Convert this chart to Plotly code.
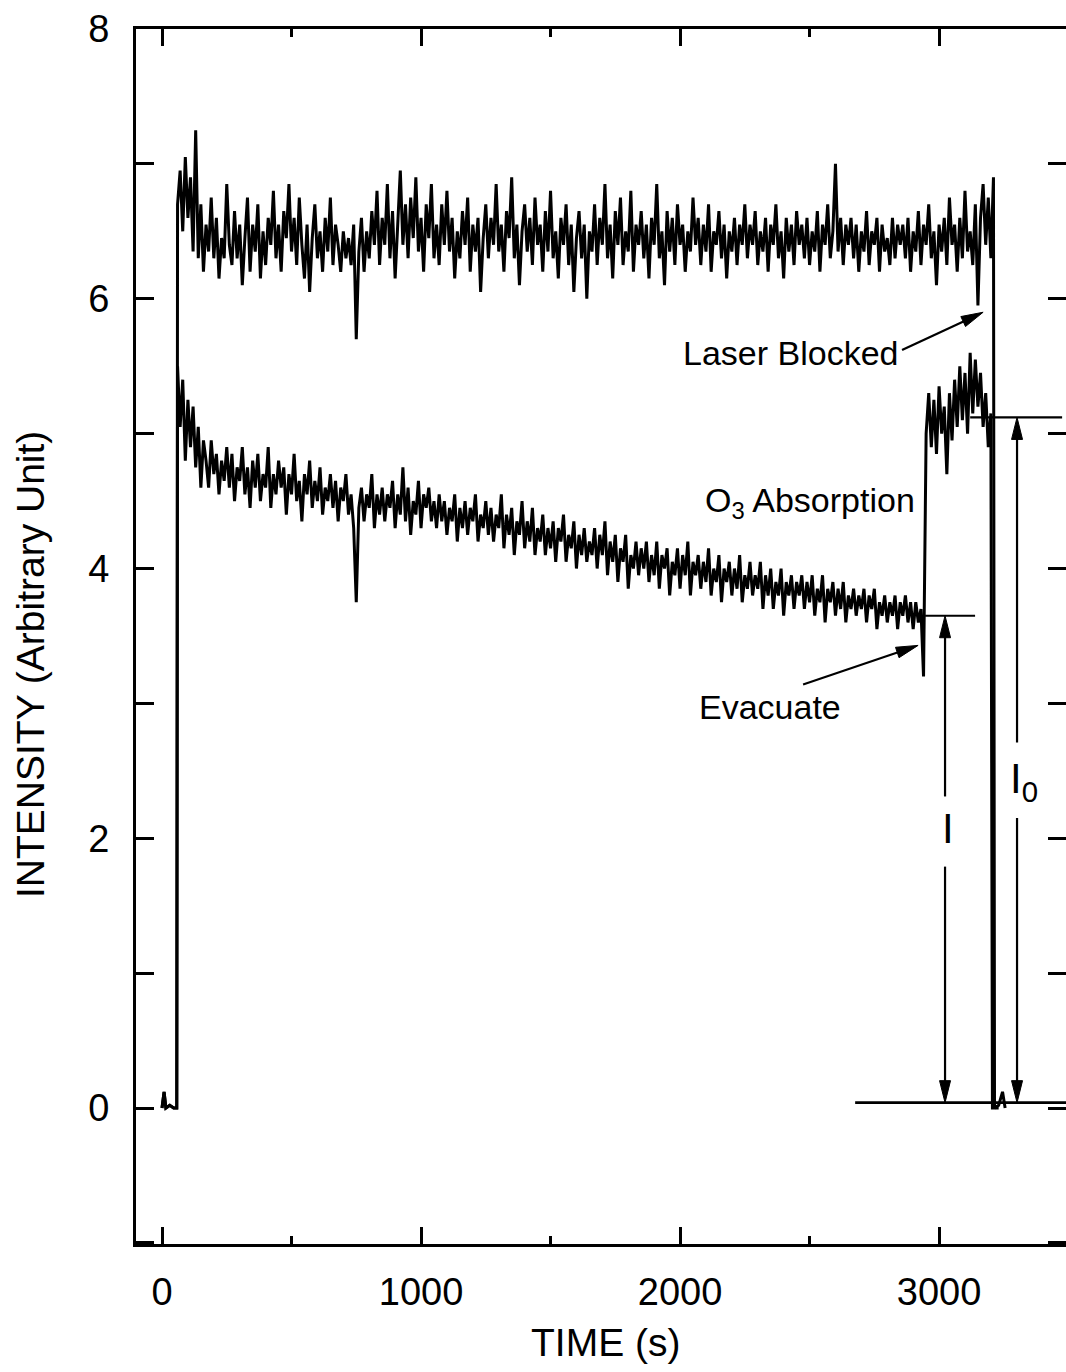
import math
import plotly.graph_objects as go

# ---------------- data ----------------
# baseline before the laser is switched on (shared by both records)
PRE_TIME = [0, 8, 15, 30, 45, 57]
PRE_LEVEL = [0.0, 0.12, 0.0, 0.02, 0.0, 0.0]

# sampled records: first sample at 60 s, one sample every 10 s
SAMPLE_START = 60
SAMPLE_STEP = 10

# upper record (reference beam), 60 s ... 3210 s
UPPER = [
    6.70, 6.95, 6.50, 7.05, 6.60, 6.90, 6.35, 7.25, 6.30, 6.70, 6.20, 6.55, 6.35, 6.75, 6.30, 6.60, 6.15, 6.45, 6.30, 6.85,
    6.40, 6.25, 6.65, 6.30, 6.55, 6.10, 6.45, 6.75, 6.20, 6.55, 6.35, 6.70, 6.15, 6.50, 6.25, 6.60, 6.40, 6.80, 6.30, 6.55,
    6.20, 6.65, 6.45, 6.85, 6.35, 6.60, 6.25, 6.75, 6.40, 6.15, 6.55, 6.05, 6.45, 6.70, 6.30, 6.50, 6.20, 6.60, 6.35, 6.75,
    6.25, 6.55, 6.40, 6.20, 6.50, 6.30, 6.45, 6.25, 6.55, 5.70, 6.35, 6.60, 6.20, 6.50, 6.30, 6.65, 6.40, 6.80, 6.25, 6.60,
    6.40, 6.85, 6.30, 6.65, 6.15, 6.55, 6.95, 6.40, 6.70, 6.30, 6.75, 6.45, 6.90, 6.35, 6.60, 6.20, 6.70, 6.45, 6.85, 6.30,
    6.55, 6.25, 6.70, 6.40, 6.80, 6.35, 6.60, 6.15, 6.50, 6.30, 6.65, 6.40, 6.75, 6.20, 6.55, 6.35, 6.60, 6.05, 6.45, 6.70,
    6.30, 6.60, 6.40, 6.85, 6.35, 6.55, 6.20, 6.65, 6.45, 6.90, 6.30, 6.55, 6.10, 6.50, 6.70, 6.35, 6.60, 6.25, 6.75, 6.40,
    6.55, 6.20, 6.65, 6.35, 6.80, 6.30, 6.50, 6.15, 6.60, 6.40, 6.70, 6.25, 6.55, 6.05, 6.45, 6.65, 6.30, 6.55, 6.00, 6.50,
    6.35, 6.70, 6.25, 6.60, 6.40, 6.85, 6.30, 6.55, 6.15, 6.65, 6.40, 6.75, 6.25, 6.50, 6.35, 6.80, 6.20, 6.55, 6.40, 6.65,
    6.30, 6.55, 6.15, 6.60, 6.40, 6.85, 6.30, 6.50, 6.10, 6.65, 6.35, 6.60, 6.25, 6.70, 6.40, 6.55, 6.20, 6.50, 6.35, 6.75,
    6.40, 6.60, 6.25, 6.55, 6.35, 6.70, 6.20, 6.50, 6.40, 6.65, 6.30, 6.55, 6.15, 6.50, 6.35, 6.60, 6.25, 6.55, 6.40, 6.70,
    6.30, 6.55, 6.40, 6.65, 6.25, 6.50, 6.35, 6.60, 6.20, 6.55, 6.40, 6.70, 6.30, 6.50, 6.15, 6.60, 6.35, 6.55, 6.25, 6.65,
    6.40, 6.55, 6.30, 6.60, 6.25, 6.50, 6.35, 6.65, 6.20, 6.55, 6.40, 6.70, 6.30, 6.50, 7.00, 6.35, 6.60, 6.25, 6.55, 6.40,
    6.60, 6.30, 6.55, 6.20, 6.50, 6.35, 6.65, 6.25, 6.50, 6.40, 6.60, 6.20, 6.55, 6.35, 6.45, 6.25, 6.60, 6.30, 6.55, 6.40,
    6.55, 6.30, 6.60, 6.20, 6.50, 6.35, 6.65, 6.25, 6.55, 6.40, 6.70, 6.30, 6.50, 6.10, 6.55, 6.35, 6.60, 6.25, 6.75, 6.40,
    6.55, 6.20, 6.60, 6.30, 6.80, 6.35, 6.50, 6.25, 6.70, 5.95, 6.60, 6.85, 6.40, 6.75, 6.30, 6.90,
]

# lower record (through the cell), 60 s ... 2940 s while ozone is present
LOWER_O3 = [
    5.50, 5.05, 5.40, 4.80, 5.25, 4.90, 5.20, 4.75, 5.05, 4.60, 4.95, 4.80, 4.60, 4.95, 4.70, 4.85, 4.55, 4.80, 4.65, 4.90,
    4.60, 4.85, 4.50, 4.75, 4.65, 4.90, 4.55, 4.75, 4.45, 4.80, 4.60, 4.85, 4.50, 4.70, 4.60, 4.90, 4.45, 4.70, 4.55, 4.80,
    4.60, 4.75, 4.40, 4.70, 4.55, 4.85, 4.50, 4.65, 4.35, 4.70, 4.55, 4.80, 4.45, 4.65, 4.50, 4.75, 4.40, 4.60, 4.50, 4.70,
    4.45, 4.65, 4.35, 4.60, 4.50, 4.70, 4.40, 4.55, 4.30, 3.75, 4.45, 4.60, 4.35, 4.55, 4.45, 4.70, 4.30, 4.55, 4.40, 4.60,
    4.35, 4.55, 4.45, 4.65, 4.30, 4.55, 4.40, 4.75, 4.35, 4.60, 4.25, 4.50, 4.40, 4.65, 4.30, 4.55, 4.45, 4.60, 4.35, 4.50,
    4.30, 4.55, 4.35, 4.50, 4.25, 4.45, 4.35, 4.55, 4.20, 4.45, 4.30, 4.50, 4.25, 4.45, 4.35, 4.55, 4.20, 4.40, 4.30, 4.50,
    4.25, 4.45, 4.20, 4.40, 4.30, 4.55, 4.15, 4.40, 4.25, 4.45, 4.10, 4.35, 4.25, 4.50, 4.15, 4.35, 4.20, 4.45, 4.10, 4.30,
    4.20, 4.40, 4.10, 4.30, 4.15, 4.35, 4.05, 4.30, 4.20, 4.40, 4.05, 4.25, 4.15, 4.35, 4.00, 4.25, 4.10, 4.30, 4.05, 4.20,
    4.10, 4.30, 4.00, 4.25, 4.10, 4.35, 3.95, 4.20, 4.05, 4.25, 3.90, 4.15, 4.05, 4.25, 3.85, 4.10, 4.00, 4.20, 3.95, 4.15,
    4.00, 4.20, 3.90, 4.10, 3.95, 4.20, 3.85, 4.10, 4.00, 4.15, 3.80, 4.05, 3.95, 4.15, 3.85, 4.10, 3.95, 4.20, 3.80, 4.05,
    3.95, 4.10, 3.85, 4.05, 3.90, 4.15, 3.80, 4.00, 3.90, 4.10, 3.75, 4.00, 3.90, 4.05, 3.80, 4.00, 3.85, 4.10, 3.75, 3.95,
    3.85, 4.05, 3.80, 3.95, 3.85, 4.05, 3.70, 3.95, 3.80, 4.00, 3.70, 3.90, 3.80, 4.00, 3.65, 3.90, 3.80, 3.95, 3.70, 3.90,
    3.80, 3.95, 3.70, 3.90, 3.75, 3.95, 3.65, 3.85, 3.75, 3.95, 3.60, 3.85, 3.75, 3.90, 3.65, 3.85, 3.70, 3.90, 3.60, 3.80,
    3.70, 3.85, 3.65, 3.80, 3.70, 3.85, 3.60, 3.80, 3.70, 3.85, 3.55, 3.75, 3.65, 3.80, 3.60, 3.75, 3.65, 3.80, 3.55, 3.75,
    3.65, 3.80, 3.60, 3.75, 3.55, 3.75, 3.60, 3.70, 3.20,
]
# lower record after the cell is evacuated, 2950 s ... 3200 s
LOWER_EVAC = [
    5.00, 5.30, 4.90, 5.25, 4.85, 5.35, 5.00, 5.20, 4.70, 5.30, 4.95, 5.40, 5.05, 5.50, 5.10, 5.45, 5.00, 5.60, 5.15, 5.55,
    5.20, 5.45, 5.05, 5.30, 4.90, 5.15,
]

# laser blocked at the end of each record
UPPER_END_TIME = [3214, 3230, 3245, 3255]
UPPER_END_LEVEL = [0.0, 0.02, 0.12, 0.0]
LOWER_END_TIME = [3206, 3230]
LOWER_END_LEVEL = [0.0, 0.0]

# reference levels marked on the chart
LEVEL_I = 3.65        # transmitted intensity with ozone
LEVEL_I0 = 5.12       # intensity with the cell evacuated
LEVEL_ZERO = 0.04     # laser blocked
TIME_I = 3023
TIME_I0 = 3301

X_TICKS = [0, 1000, 2000, 3000]
Y_TICKS = [0, 2, 4, 6, 8]

# ---------------- figure ----------------
XR = [-100.4, 3490]
YR = [-1.008, 8]
W, H = 1066, 1372
ML, MR, MT, MB = 136, 0, 29, 128
PW, PH = W - ML - MR, H - MT - MB
PX_X = PW / (XR[1] - XR[0])
PX_Y = PH / (YR[1] - YR[0])

FONT = "Liberation Sans, Arial, Helvetica, sans-serif"

upper_t = PRE_TIME + [SAMPLE_START + i * SAMPLE_STEP for i in range(len(UPPER))] + UPPER_END_TIME
upper_y = PRE_LEVEL + UPPER + UPPER_END_LEVEL
lower_vals = LOWER_O3 + LOWER_EVAC
lower_t = PRE_TIME + [SAMPLE_START + i * SAMPLE_STEP for i in range(len(lower_vals))] + LOWER_END_TIME
lower_y = PRE_LEVEL + lower_vals + LOWER_END_LEVEL

fig = go.Figure()
fig.add_trace(go.Scatter(x=upper_t, y=upper_y, mode="lines",
                         line=dict(color="black", width=3.0), hoverinfo="skip"))
fig.add_trace(go.Scatter(x=lower_t, y=lower_y, mode="lines",
                         line=dict(color="black", width=3.0), hoverinfo="skip"))
# carrier for the right-hand tick axis
fig.add_trace(go.Scatter(x=[XR[0]], y=[YR[0]], mode="lines", yaxis="y2",
                         line=dict(width=0), hoverinfo="skip", showlegend=False))

shapes = []


def hline(x0, x1, y, w=2.2):
    shapes.append(dict(type="line", xref="x", yref="y", x0=x0, x1=x1, y0=y, y1=y,
                       line=dict(color="black", width=w)))


def arrow(x0, y0, x1, y1, head_len=22, head_w=11, w=2.2):
    """line from (x0,y0) to tip (x1,y1) with a filled head at the tip"""
    dx = (x1 - x0) * PX_X
    dy = (y1 - y0) * PX_Y
    L = math.hypot(dx, dy)
    ux, uy = dx / L, dy / L
    bx, by = -head_len * ux, -head_len * uy
    px_, py_ = -uy * head_w / 2, ux * head_w / 2
    base_x = x1 + bx / PX_X
    base_y = y1 + by / PX_Y
    shapes.append(dict(type="line", xref="x", yref="y", x0=x0, y0=y0,
                       x1=x1 + bx * 0.5 / PX_X, y1=y1 + by * 0.5 / PX_Y,
                       line=dict(color="black", width=w)))
    c1 = (base_x + px_ / PX_X, base_y + py_ / PX_Y)
    c2 = (base_x - px_ / PX_X, base_y - py_ / PX_Y)
    path = f"M {x1},{y1} L {c1[0]},{c1[1]} L {c2[0]},{c2[1]} Z"
    shapes.append(dict(type="path", xref="x", yref="y", path=path,
                       fillcolor="black", line=dict(color="black", width=1)))


# level lines
hline(2946, 3139, LEVEL_I)
hline(3120, 3475, LEVEL_I0)
hline(2676, XR[1], LEVEL_ZERO, w=2.6)

# I double arrow (broken around its label)
arrow(TIME_I, 2.31, TIME_I, LEVEL_I)
arrow(TIME_I, 1.79, TIME_I, LEVEL_ZERO)
# I0 double arrow
arrow(TIME_I0, 2.71, TIME_I0, LEVEL_I0)
arrow(TIME_I0, 2.15, TIME_I0, LEVEL_ZERO)

# pointer arrows
arrow(2857, 5.62, 3170, 5.90)
arrow(2475, 3.14, 2919, 3.43)

annotations = [
    dict(x=2425, y=5.60, text="Laser Blocked", showarrow=False, xref="x", yref="y",
         font=dict(size=34, family=FONT, color="black")),
    dict(x=2502, y=4.49, text="O<sub>3</sub> Absorption", showarrow=False, xref="x", yref="y",
         font=dict(size=34, family=FONT, color="black")),
    dict(x=2347, y=2.97, text="Evacuate", showarrow=False, xref="x", yref="y",
         font=dict(size=34, family=FONT, color="black")),
    dict(x=TIME_I + 12, y=2.07, text="I", showarrow=False, xref="x", yref="y",
         font=dict(size=42, family=FONT, color="black")),
    dict(x=TIME_I0 + 25, y=2.42, text="I<sub>0</sub>", showarrow=False, xref="x", yref="y",
         font=dict(size=42, family=FONT, color="black")),
    dict(x=(605 - ML) / PW, y=-(1342 - (H - MB)) / PH, xref="paper", yref="paper",
         text="TIME (s)", showarrow=False, yanchor="middle",
         font=dict(size=39, family=FONT, color="black")),
    dict(x=(30 - ML) / PW, y=((H - MB) - 665) / PH, xref="paper", yref="paper",
         text="INTENSITY (Arbitrary Unit)", textangle=-90, showarrow=False,
         xanchor="center", yanchor="middle",
         font=dict(size=39, family=FONT, color="black")),
]

axis_common = dict(showgrid=False, zeroline=False, showline=True, linecolor="black",
                   linewidth=3, ticks="inside", tickcolor="black", tickwidth=3,
                   tickfont=dict(size=38, family=FONT, color="black"))

fig.update_layout(
    width=W, height=H,
    margin=dict(l=ML, r=MR, t=MT, b=MB, pad=0),
    paper_bgcolor="white", plot_bgcolor="white",
    showlegend=False,
    font=dict(family=FONT, color="black"),
    xaxis=dict(range=XR, tickvals=X_TICKS, ticklen=17, mirror="ticks",
               minor=dict(dtick=500, tick0=0, ticklen=8, tickwidth=3, ticks="inside",
                          tickcolor="black"),
               ticklabelstandoff=12, **axis_common),
    yaxis=dict(range=YR, tickvals=Y_TICKS, ticklen=18,
               minor=dict(dtick=1, tick0=0, ticklen=18, tickwidth=3, ticks="inside",
                          tickcolor="black"),
               ticklabelstandoff=16, **axis_common),
    yaxis2=dict(range=YR, overlaying="y", side="right", dtick=1, tick0=0,
                ticks="inside", ticklen=18, tickwidth=3, tickcolor="black",
                showticklabels=False, showline=False, showgrid=False, zeroline=False),
    shapes=shapes,
    annotations=annotations,
)

fig.write_html(
    "out.html",
    config={"displayModeBar": False},
    post_script="document.body.style.margin='0';document.body.style.overflow='hidden';",
)
